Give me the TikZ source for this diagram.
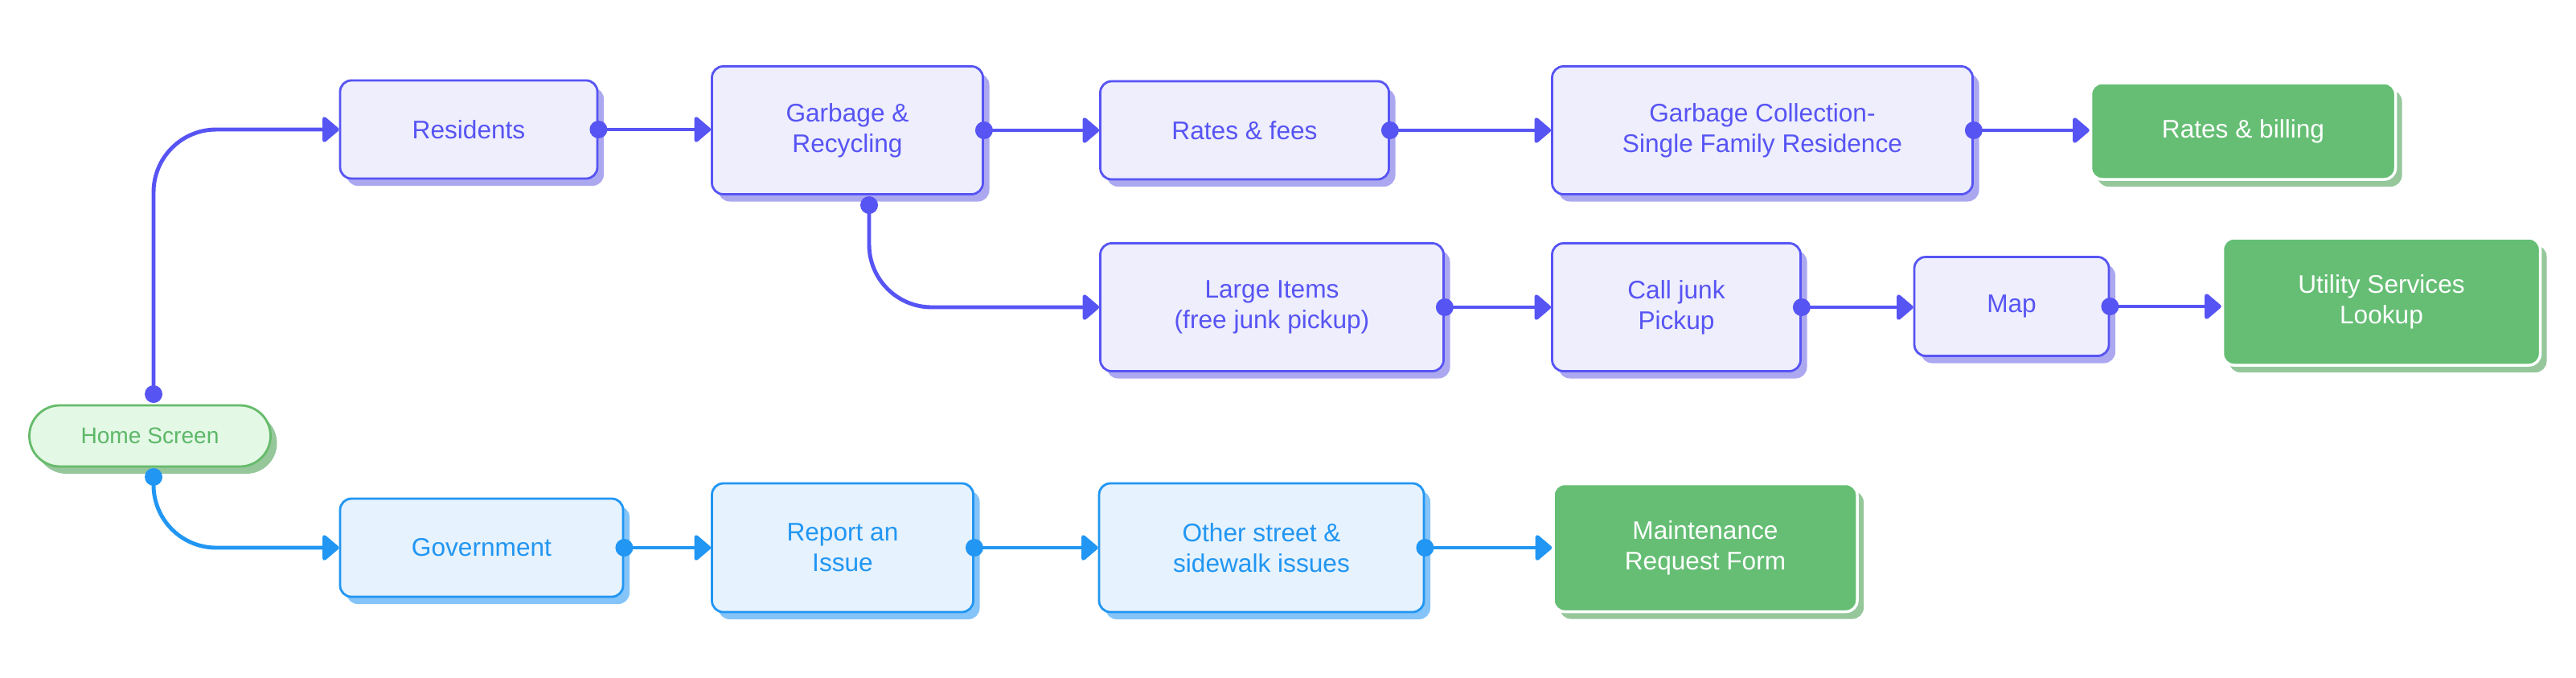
\documentclass[tikz,border=0pt]{standalone}
\usepackage{fontspec}
\setmainfont{Liberation Sans}
\usetikzlibrary{arrows.meta, shadows, calc}

\definecolor{purp}{HTML}{5754F4}
\definecolor{purpfill}{HTML}{EEEEFC}
\definecolor{purpshadow}{HTML}{ACA8F0}
\definecolor{blu}{HTML}{2196F3}
\definecolor{blufill}{HTML}{E6F2FD}
\definecolor{blushadow}{HTML}{84C4F8}
\definecolor{grn}{HTML}{65BE74}
\definecolor{grnshadow}{HTML}{95C79B}
\definecolor{homefill}{HTML}{E4F8E6}
\definecolor{homeline}{HTML}{66BB6A}
\definecolor{hometext}{HTML}{5CB868}

\tikzset{
	box/.style={rounded corners=0.14cm, line width=0.8pt, align=center, inner sep=0pt,
		font=\fontsize{9pt}{10.8pt}\selectfont},
	resbox/.style={box, draw=purp, fill=purpfill, text=purp,
		drop shadow={shadow xshift=0.08cm, shadow yshift=-0.09cm, fill=purpshadow, opacity=1}},
	govbox/.style={box, draw=blu, fill=blufill, text=blu,
		drop shadow={shadow xshift=0.08cm, shadow yshift=-0.09cm, fill=blushadow, opacity=1}},
	endbox/.style={box, draw=white, line width=1pt, fill=grn, text=white,
		drop shadow={shadow xshift=0.08cm, shadow yshift=-0.09cm, fill=grnshadow, opacity=1}},
	homebox/.style={box, rounded corners=0.38cm, draw=homeline, fill=homefill, text=hometext,
		font=\fontsize{8pt}{9.6pt}\selectfont,
		drop shadow={shadow xshift=0.08cm, shadow yshift=-0.09cm, fill=grnshadow, opacity=1}},
	flow/.style={line width=1.4pt, -{Triangle[length=0.22cm, width=0.36cm, round]}},
}

\begin{document}
\begin{tikzpicture}
			\useasboundingbox (0,0) rectangle (32.04,-8.42);

			\node[homebox, minimum width=3.0cm, minimum height=0.76cm] (home) at (1.865,-5.42) {Home Screen};

			\node[resbox, minimum width=3.20cm, minimum height=1.22cm] (res) at (5.83,-1.61) {Residents};
			\node[resbox, minimum width=3.37cm, minimum height=1.59cm] (garb) at (10.54,-1.62) {Garbage \&\\Recycling};
			\node[resbox, minimum width=3.59cm, minimum height=1.22cm] (fees) at (15.48,-1.62) {Rates \& fees};
			\node[resbox, minimum width=5.23cm, minimum height=1.59cm] (coll) at (21.92,-1.62) {Garbage Collection-\\Single Family Residence};
			\node[endbox, minimum width=3.79cm, minimum height=1.20cm] (bill) at (27.90,-1.63) {Rates \& billing};

			\node[resbox, minimum width=4.27cm, minimum height=1.59cm] (large) at (15.82,-3.82) {Large Items\\(free junk pickup)};
			\node[resbox, minimum width=3.09cm, minimum height=1.59cm] (junk) at (20.85,-3.82) {Call junk\\Pickup};
			\node[resbox, minimum width=2.42cm, minimum height=1.23cm] (map) at (25.02,-3.81) {Map};
			\node[endbox, minimum width=3.95cm, minimum height=1.58cm] (util) at (29.62,-3.75) {Utility Services\\Lookup};

			\node[govbox, minimum width=3.52cm, minimum height=1.22cm] (gov) at (5.99,-6.81) {Government};
			\node[govbox, minimum width=3.25cm, minimum height=1.60cm] (report) at (10.48,-6.81) {Report an\\Issue};
			\node[govbox, minimum width=4.04cm, minimum height=1.60cm] (street) at (15.69,-6.81) {Other street \&\\sidewalk issues};
			\node[endbox, minimum width=3.78cm, minimum height=1.59cm] (maint) at (21.21,-6.81) {Maintenance\\Request Form};

			\coordinate (homeup) at (1.91,-4.90);
			\coordinate (homedown) at (1.91,-5.93);
			\coordinate (garbdown) at (10.81,-2.55);

			\draw[flow, purp, rounded corners=0.78cm] (homeup) |- (res.west);
			\draw[flow, blu, rounded corners=0.78cm] (homedown) |- (gov.west);
			\draw[flow, purp, rounded corners=0.78cm] (garbdown) |- (large.west);

			\foreach \a/\b in {res/garb, garb/fees, fees/coll, coll/bill, large/junk, junk/map, map/util}
				\draw[flow, purp] (\a.east) -- (\a.east -| \b.west);
			\foreach \a/\b in {gov/report, report/street, street/maint}
				\draw[flow, blu] (\a.east) -- (\a.east -| \b.west);

			\foreach \n in {res.east, garb.east, fees.east, coll.east, large.east, junk.east, map.east, homeup, garbdown}
				\fill[purp] (\n) circle[radius=0.11];
			\foreach \n in {gov.east, report.east, street.east, homedown}
				\fill[blu] (\n) circle[radius=0.11];
			\end{tikzpicture}
\end{document}
